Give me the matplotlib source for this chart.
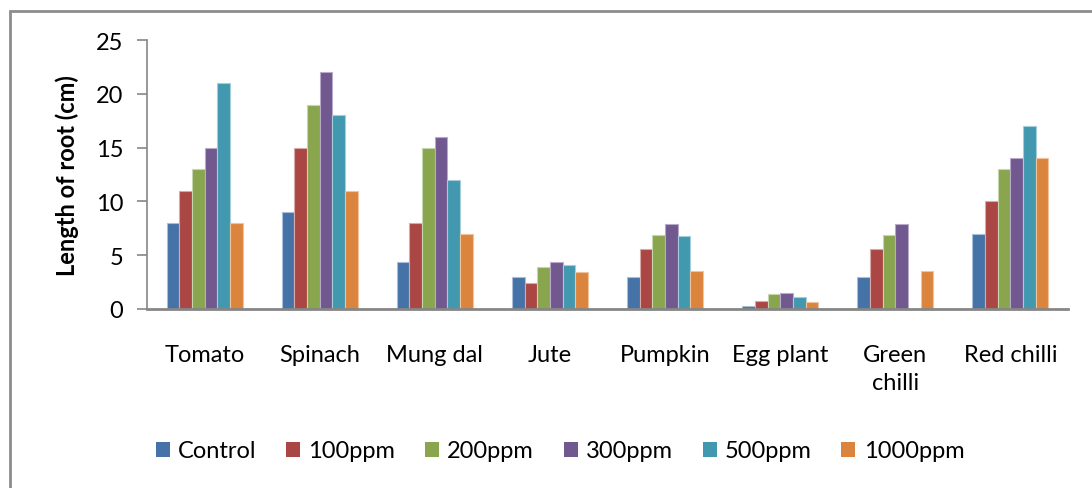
import matplotlib
matplotlib.use("Agg")
import matplotlib.pyplot as plt
from matplotlib.patches import Rectangle
import numpy as np

plt.rcParams['font.family'] = ['Lato', 'DejaVu Sans']

categories = ["Tomato", "Spinach", "Mung dal", "Jute", "Pumpkin", "Egg plant", "Green\nchilli", "Red chilli"]
series_names = ["Control", "100ppm", "200ppm", "300ppm", "500ppm", "1000ppm"]
control = [8, 9, 4.4, 3, 3, 0.3, 3, 7]
ppm100 = [11, 15, 8, 2.4, 5.6, 0.75, 5.6, 10]
ppm200 = [13, 19, 15, 3.9, 6.9, 1.4, 6.9, 13]
ppm300 = [15, 22, 16, 4.4, 7.9, 1.5, 7.9, 14]
ppm500 = [21, 18, 12, 4.1, 6.8, 1.1, 0, 17]
ppm1000 = [8, 11, 7, 3.4, 3.5, 0.65, 3.5, 14]
y_ticks = [0, 5, 10, 15, 20, 25]

colors = ["#4572A7", "#AA4643", "#89A54E", "#71588F", "#4198AF", "#DB843D"]
edges = ["#A9BEDA", "#D9A9A8", "#C6D6AE", "#B8ABC9", "#A6CEDA", "#F0C39F"]

FS = 17

fig = plt.figure(figsize=(10.92, 4.89), dpi=100)
ax = fig.add_axes([147 / 1092, 1 - 310 / 489, (1068 - 147) / 1092, (310 - 41) / 489])

series = [control, ppm100, ppm200, ppm300, ppm500, ppm1000]
x = np.arange(len(categories))
n = len(series)
bw = 0.66 / n
for i, (vals, name) in enumerate(zip(series, series_names)):
    offs = (i - (n - 1) / 2) * bw
    ax.bar(x + offs, vals, width=bw, color=colors[i], edgecolor=edges[i],
           linewidth=0.8, label=name, zorder=2)

ax.set_xlim(-0.5, len(categories) - 0.5)
ax.set_ylim(0, 25)
ax.set_yticks(y_ticks)
ax.set_yticklabels([str(t) for t in y_ticks], fontsize=FS)
ax.set_xticks(x)
ax.set_xticklabels(categories, fontsize=FS, linespacing=1.4, va='top')
ax.tick_params(axis='x', length=0, pad=25)
ax.tick_params(axis='y', length=7, width=1.2, color='#868686', pad=10, direction='out')
for s in ['top', 'right']:
    ax.spines[s].set_visible(False)
ax.spines['left'].set_color('#868686')
ax.spines['left'].set_linewidth(1.2)
ax.spines['bottom'].set_color('#868686')
ax.spines['bottom'].set_linewidth(2)
ax.set_ylabel("Length of root (cm)", fontsize=FS, fontweight='bold', labelpad=12)

leg = fig.legend(loc='center', bbox_to_anchor=(560 / 1092, 1 - 452 / 489), ncol=6,
                 frameon=False, fontsize=FS, handlelength=0.6, handleheight=0.6,
                 handletextpad=0.35, columnspacing=1.25)
for h in leg.legend_handles:
    h.set_edgecolor('none')

# outer chart frame
fig.patches.append(Rectangle((10 / 1092, -0.05), 1.2, 1 - 12 / 489 + 0.05,
                             transform=fig.transFigure, fill=False,
                             edgecolor='#8C8C8C', linewidth=2))

fig.savefig("out.png", dpi=100, facecolor='white')
